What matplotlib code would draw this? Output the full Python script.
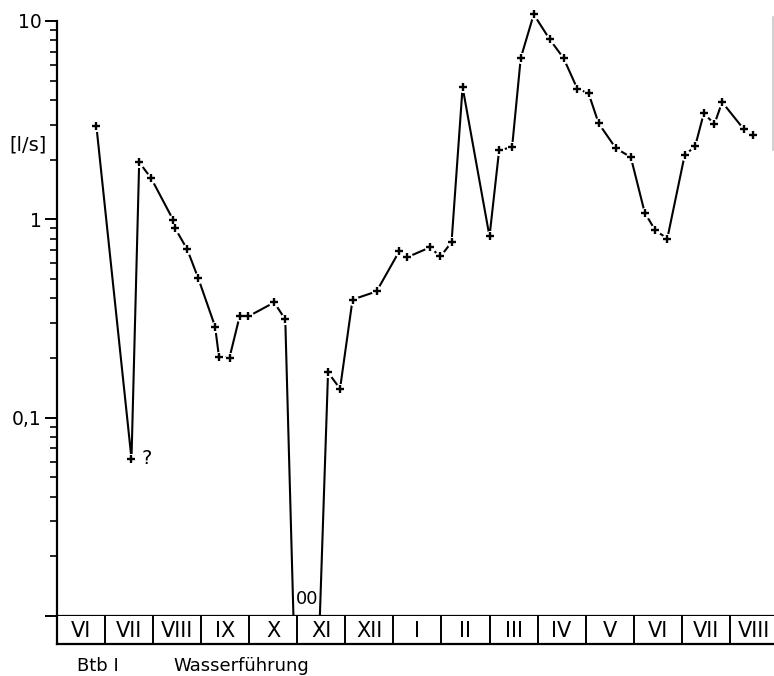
#!/usr/bin/env python3
"""
Btb I - Wasserfuehrung (discharge, l/s) over ~15 months, log scale.
Zero readings are drawn down to the baseline and marked "00".
"""

import matplotlib
matplotlib.use("Agg")
import matplotlib.pyplot as plt
import numpy as np
from matplotlib.lines import Line2D

# month boxes along the bottom (June .. August of the following year)
months = ["VI", "VII", "VIII", "IX", "X", "XI", "XII", "I",
          "II", "III", "IV", "V", "VI", "VII", "VIII"]

# time in months from the start of the first June box
t = np.array([0.82, 1.55, 1.71, 1.96, 2.42, 2.46, 2.71, 2.94,
              3.29, 3.37, 3.59, 3.80, 3.98, 4.52, 4.75, 4.92,
              5.47, 5.64, 5.89, 6.15, 6.65, 7.12, 7.28, 7.76,
              7.98, 8.21, 8.44, 9.00, 9.20, 9.47, 9.65, 9.92,
              10.25, 10.54, 10.83, 11.06, 11.27, 11.63, 11.94, 12.23,
              12.45, 12.70, 13.06, 13.28, 13.46, 13.68, 13.84, 14.29,
              14.48])

# discharge [l/s]; 0 = dry
q = np.array([2.95, 0.062, 1.94, 1.61, 0.99, 0.90, 0.705, 0.504,
              0.288, 0.203, 0.201, 0.324, 0.324, 0.381, 0.313, 0.0,
              0.0, 0.169, 0.140, 0.394, 0.433, 0.689, 0.643, 0.722,
              0.650, 0.766, 4.64, 0.82, 2.23, 2.31, 6.5, 10.8,
              8.1, 6.5, 4.54, 4.33, 3.05, 2.28, 2.06, 1.08,
              0.88, 0.80, 2.1, 2.34, 3.43, 3.02, 3.9, 2.85,
              2.66])

y_ticks = [0.01, 0.1, 1, 10]
y_ticklabels = ["", "0,1", "1", "10"]
uncertain_idx = 1   # the "?" reading in July

W, H = 774, 676
Y_MIN, Y_MAX = 0.01, 10
X_MAX = 14.92


def main() -> None:
    plt.rcParams["font.family"] = ["DejaVu Sans"]

    fig = plt.figure(figsize=(W / 100, H / 100), dpi=100)
    ax = fig.add_axes([57 / W, 60 / H, (W - 57) / W, 595 / H])

    ax.set_yscale("log")
    ax.set_ylim(Y_MIN, Y_MAX)
    ax.set_xlim(0, X_MAX)

    # zeros cannot sit on a log axis -> put them on the baseline
    q_plot = np.where(q > 0, q, Y_MIN)
    wet = q > 0

    ax.plot(t, q_plot, color="black", lw=1.5, clip_on=False, zorder=2)
    # white discs give the small gaps round each cross like the drawing
    ax.plot(t[wet], q[wet], "o", ms=8, mfc="white", mec="none",
            clip_on=False, zorder=3)
    ax.plot(t[wet], q[wet], "+", ms=6, mew=1.7, color="black",
            clip_on=False, zorder=4)

    ax.annotate("?", (t[uncertain_idx], q[uncertain_idx]), xytext=(7, 0),
                textcoords="offset points", ha="left", va="center",
                fontsize=14)
    ax.annotate("00", (t[~wet].mean(), Y_MIN), xytext=(0, 9),
                textcoords="offset points", ha="center", va="baseline",
                fontsize=13)

    ax.set_yticks(y_ticks)
    ax.set_yticklabels(y_ticklabels)
    ax.yaxis.set_minor_formatter(plt.NullFormatter())
    ax.tick_params(axis="y", which="major", length=9, width=1.4,
                   labelsize=13.5, pad=2)
    ax.tick_params(axis="y", which="minor", length=5, width=1.2)
    ax.set_xticks([])

    for side in ("top", "right"):
        ax.spines[side].set_visible(False)
    for side in ("left", "bottom"):
        ax.spines[side].set_linewidth(1.6)

    # month boxes under the plot
    bx = fig.add_axes([57 / W, 32 / H, (W - 57) / W, 28 / H])
    bx.set_xlim(0, X_MAX)
    bx.set_ylim(0, 1)
    for i, m in enumerate(months):
        if i > 0:
            bx.axvline(i, color="black", lw=1.4)
        bx.text(i + 0.5, 0.47, m, ha="center", va="center", fontsize=15)
    bx.set_xticks([])
    bx.set_yticks([])
    for side in ("top", "right"):
        bx.spines[side].set_visible(False)
    for side in ("left", "bottom"):
        bx.spines[side].set_linewidth(1.6)

    fig.text(28 / W, 1 - 145 / H, "[l/s]", ha="center", va="center",
             fontsize=14)
    fig.text(77 / W, 5 / H, "Btb I", ha="left", va="baseline", fontsize=13)
    fig.text(173 / W, 5 / H, "Wasserführung", ha="left", va="baseline",
             fontsize=13)

    # faint frame edge at the right of the scan
    fig.add_artist(Line2D([773 / W] * 2, [1 - 17 / H, 1 - 150 / H],
                          color="#c8c8c8", lw=1.2))

    fig.savefig("out.png", dpi=100)
    plt.close(fig)


if __name__ == "__main__":
    main()
